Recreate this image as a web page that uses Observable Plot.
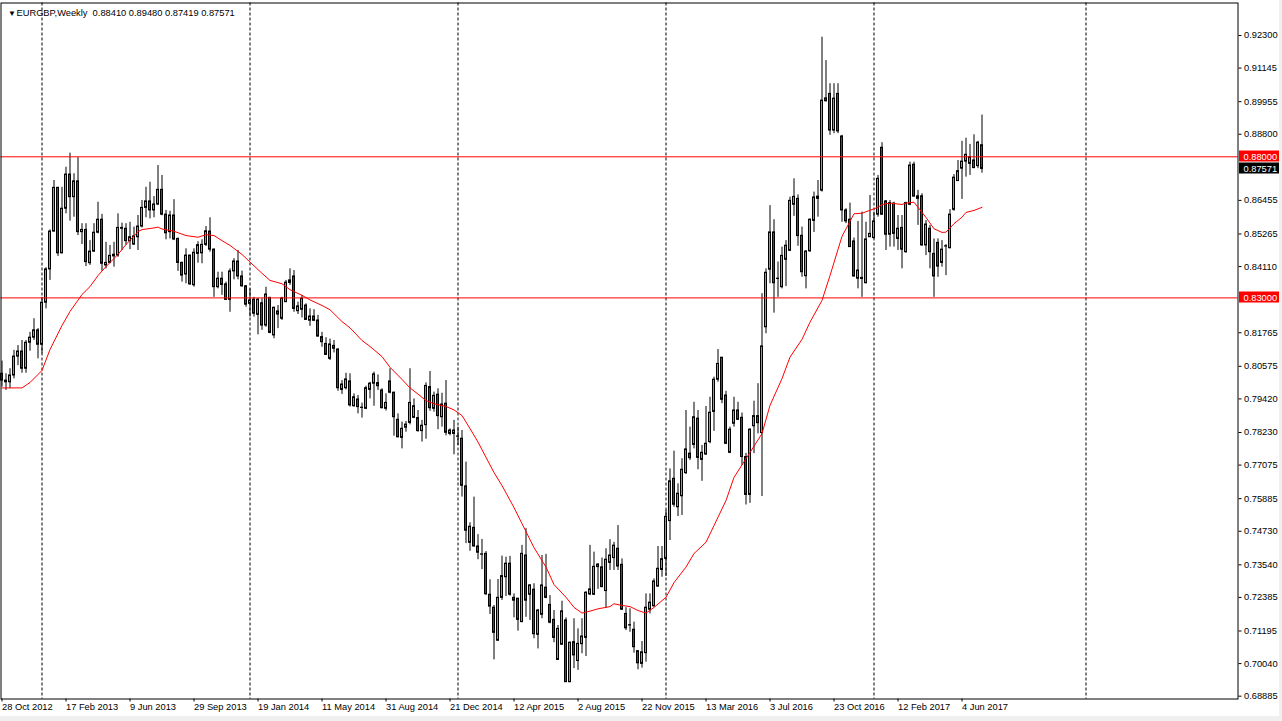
<!DOCTYPE html>
<html><head><meta charset="utf-8">
<script src="https://cdn.jsdelivr.net/npm/d3@7"></script>
<script src="https://cdn.jsdelivr.net/npm/@observablehq/plot@0.6"></script>
<style>
html,body{margin:0;padding:0;background:#fff;overflow:hidden;}
#wrap{position:relative;width:1282px;height:721px;}
#chart svg{display:block;}
.band{position:absolute;background:#f0f0f0;}
</style></head><body>
<div id="wrap"><div id="chart"></div>
<div class="band" style="left:1279px;top:0;width:3px;height:721px;"></div>
<div class="band" style="left:0;top:716px;width:1282px;height:5px;"></div>
</div>
<script>
const symbol = "EURGBP,Weekly";
const open = [
0.8031,0.8001,0.8001,0.8025,0.8092,0.8110,0.8049,0.8141,0.8159,0.8185,
0.8134,0.8283,0.8401,0.8535,0.8690,0.8458,0.8616,0.8737,0.8657,0.8713,
0.8533,0.8541,0.8423,0.8464,0.8531,0.8577,0.8415,0.8424,0.8447,0.8450,
0.8548,0.8545,0.8501,0.8489,0.8515,0.8553,0.8619,0.8642,0.8610,0.8631,
0.8683,0.8595,0.8533,0.8592,0.8509,0.8424,0.8383,0.8450,0.8345,0.8456,
0.8458,0.8488,0.8535,0.8471,0.8338,0.8368,0.8348,0.8293,0.8394,0.8429,
0.8376,0.8341,0.8279,0.8294,0.8240,0.8281,0.8202,0.8300,0.8167,0.8252,
0.8226,0.8285,0.8353,0.8376,0.8253,0.8258,0.8273,0.8219,0.8234,0.8220,
0.8161,0.8137,0.8084,0.8130,0.8117,0.7974,0.7980,0.8004,0.7916,0.7940,
0.7911,0.7907,0.7974,0.7996,0.7998,0.7972,0.7907,0.8004,0.7964,0.7868,
0.7804,0.7840,0.7857,0.7875,0.7874,0.7828,0.7849,0.7984,0.7907,0.7957,
0.7877,0.7925,0.7818,0.7818,0.7809,0.7801,0.7632,0.7432,0.7485,0.7419,
0.7391,0.7393,0.7248,0.7202,0.7085,0.7237,0.7310,0.7358,0.7237,0.7234,
0.7151,0.7387,0.7248,0.7266,0.7106,0.7177,0.7273,0.7212,0.7159,0.7017,
0.7071,0.7157,0.6938,0.7080,0.7013,0.7073,0.7095,0.7249,0.7248,0.7355,
0.7345,0.7261,0.7361,0.7378,0.7411,0.7354,0.7180,0.7140,0.7124,0.7048,
0.7003,0.7041,0.7195,0.7207,0.7277,0.7336,0.7375,0.7509,0.7659,0.7558,
0.7597,0.7679,0.7748,0.7779,0.7872,0.7726,0.7745,0.7789,0.7896,0.8010,
0.8088,0.7954,0.7751,0.7854,0.7901,0.7875,0.7736,0.7602,0.7845,0.7881,
0.7821,0.8196,0.8400,0.8532,0.8368,0.8338,0.8435,0.8467,0.8630,0.8651,
0.8520,0.8377,0.8465,0.8573,0.8651,0.8680,0.9007,0.9023,0.8893,0.9023,
0.8872,0.8610,0.8577,0.8500,0.8368,0.8371,0.8352,0.8515,0.8512,0.8595,
0.8832,0.8642,0.8524,0.8634,0.8509,0.8548,0.8462,0.8630,0.8772,0.8660,
0.8660,0.8486,0.8545,0.8456,0.8495,0.8424,0.8483,0.8476,0.8612,0.8714,
0.8758,0.8783,0.8775,0.8787,0.8767,0.88410];
const high = [
0.8076,0.8031,0.8049,0.8114,0.8131,0.8149,0.8149,0.8178,0.8226,0.8191,
0.8302,0.8407,0.8541,0.8716,0.8692,0.8692,0.8763,0.8813,0.8740,0.8797,
0.8563,0.8563,0.8503,0.8563,0.8639,0.8596,0.8497,0.8486,0.8497,0.8598,
0.8565,0.8563,0.8568,0.8551,0.8592,0.8645,0.8692,0.8710,0.8659,0.8769,
0.8734,0.8610,0.8607,0.8648,0.8512,0.8427,0.8474,0.8451,0.8474,0.8499,
0.8506,0.8553,0.8584,0.8474,0.8391,0.8391,0.8356,0.8403,0.8439,0.8468,
0.8395,0.8344,0.8332,0.8302,0.8297,0.8297,0.8338,0.8302,0.8267,0.8273,
0.8302,0.8362,0.8403,0.8397,0.8285,0.8309,0.8279,0.8261,0.8258,0.8238,
0.8178,0.8159,0.8154,0.8149,0.8120,0.8007,0.8033,0.8031,0.7960,0.7954,
0.7927,0.7987,0.8001,0.8037,0.8027,0.7978,0.7960,0.8049,0.7966,0.7889,
0.7860,0.7862,0.8049,0.7942,0.7901,0.7866,0.7999,0.8039,0.7966,0.7978,
0.7962,0.8007,0.7836,0.7866,0.7842,0.7830,0.7718,0.7503,0.7594,0.7461,
0.7444,0.7401,0.7301,0.7210,0.7302,0.7385,0.7381,0.7384,0.7251,0.7235,
0.7423,0.7482,0.7284,0.7287,0.7196,0.7387,0.7391,0.7245,0.7192,0.7139,
0.7225,0.7166,0.7080,0.7163,0.7127,0.7163,0.7259,0.7423,0.7399,0.7358,
0.7378,0.7411,0.7443,0.7434,0.7493,0.7375,0.7202,0.7198,0.7151,0.7050,
0.7082,0.7251,0.7251,0.7304,0.7419,0.7419,0.7547,0.7694,0.7757,0.7641,
0.7730,0.7901,0.7842,0.7930,0.7901,0.7777,0.7915,0.7948,0.8019,0.8117,
0.8088,0.7969,0.7842,0.7948,0.7930,0.7892,0.7749,0.7836,0.7934,0.7996,
0.8315,0.8403,0.8627,0.8577,0.8427,0.8480,0.8503,0.8657,0.8722,0.8665,
0.8551,0.8468,0.8580,0.8675,0.8716,0.9224,0.9141,0.9059,0.9059,0.9059,
0.8876,0.8616,0.8636,0.8512,0.8571,0.8604,0.8568,0.8663,0.8604,0.8734,
0.8850,0.8645,0.8645,0.8639,0.8592,0.8592,0.8639,0.8781,0.8781,0.8681,
0.8669,0.8574,0.8557,0.8509,0.8509,0.8503,0.8489,0.8613,0.8737,0.8787,
0.8855,0.8866,0.8844,0.8878,0.8855,0.89480];
const low = [
0.7984,0.7972,0.7978,0.8013,0.8060,0.8033,0.8033,0.8111,0.8149,0.8084,
0.8102,0.8261,0.8362,0.8533,0.8447,0.8456,0.8598,0.8572,0.8586,0.8521,
0.8489,0.8411,0.8415,0.8462,0.8527,0.8394,0.8403,0.8421,0.8409,0.8444,
0.8468,0.8486,0.8471,0.8486,0.8468,0.8548,0.8584,0.8580,0.8584,0.8627,
0.8591,0.8506,0.8509,0.8503,0.8394,0.8356,0.8350,0.8344,0.8338,0.8423,
0.8421,0.8482,0.8462,0.8302,0.8332,0.8309,0.8291,0.8249,0.8364,0.8364,
0.8338,0.8267,0.8232,0.8232,0.8169,0.8185,0.8196,0.8173,0.8155,0.8191,
0.8220,0.8283,0.8344,0.8249,0.8241,0.8229,0.8222,0.8199,0.8216,0.8161,
0.8125,0.8096,0.8078,0.8105,0.7969,0.7958,0.7974,0.7913,0.7913,0.7889,
0.7874,0.7904,0.7942,0.7916,0.7972,0.7907,0.7899,0.7960,0.7810,0.7804,
0.7765,0.7824,0.7850,0.7872,0.7824,0.7789,0.7799,0.7898,0.7895,0.7833,
0.7842,0.7811,0.7811,0.7744,0.7777,0.7594,0.7429,0.7402,0.7417,0.7372,
0.7337,0.7245,0.7178,0.7017,0.7083,0.7228,0.7242,0.7243,0.7166,0.7119,
0.7149,0.7168,0.7157,0.7092,0.7056,0.7163,0.7234,0.7145,0.7078,0.7015,
0.7068,0.6938,0.6938,0.6986,0.6980,0.7039,0.7029,0.7245,0.7245,0.7267,
0.7273,0.7200,0.7334,0.7334,0.7334,0.7192,0.7121,0.7115,0.7041,0.6982,
0.6988,0.7009,0.7180,0.7204,0.7275,0.7310,0.7313,0.7440,0.7558,0.7525,
0.7529,0.7674,0.7724,0.7765,0.7691,0.7650,0.7742,0.7783,0.7827,0.8001,
0.7925,0.7780,0.7748,0.7842,0.7866,0.7706,0.7566,0.7572,0.7748,0.7818,
0.7596,0.8173,0.8350,0.8246,0.8302,0.8332,0.8340,0.8464,0.8589,0.8483,
0.8373,0.8332,0.8462,0.8532,0.8586,0.8675,0.8994,0.8876,0.8882,0.8882,
0.8568,0.8563,0.8480,0.8373,0.8332,0.8302,0.8350,0.8515,0.8509,0.8586,
0.8592,0.8468,0.8480,0.8480,0.8468,0.8403,0.8458,0.8627,0.8657,0.8557,
0.8483,0.8450,0.8403,0.8302,0.8373,0.8409,0.8379,0.8474,0.8607,0.8713,
0.8649,0.8728,0.8734,0.8758,0.8758,0.87419];
const close = [
0.8007,0.8007,0.8025,0.8092,0.8110,0.8049,0.8141,0.8159,0.8185,0.8134,
0.8283,0.8401,0.8535,0.8690,0.8458,0.8616,0.8737,0.8657,0.8713,0.8533,
0.8541,0.8427,0.8464,0.8531,0.8577,0.8421,0.8424,0.8449,0.8453,0.8548,
0.8545,0.8501,0.8515,0.8518,0.8553,0.8619,0.8642,0.8610,0.8631,0.8683,
0.8595,0.8529,0.8592,0.8507,0.8424,0.8379,0.8450,0.8348,0.8460,0.8487,
0.8488,0.8536,0.8471,0.8338,0.8368,0.8346,0.8293,0.8394,0.8429,0.8376,
0.8341,0.8276,0.8291,0.8244,0.8294,0.8202,0.8312,0.8176,0.8265,0.8241,
0.8298,0.8354,0.8362,0.8261,0.8270,0.8297,0.8222,0.8234,0.8219,0.8163,
0.8143,0.8098,0.8135,0.8120,0.7980,0.7993,0.8011,0.7919,0.7948,0.7913,
0.7910,0.7980,0.7996,0.8029,0.7987,0.7909,0.7928,0.7964,0.7877,0.7806,
0.7836,0.7851,0.7928,0.7916,0.7828,0.7847,0.7988,0.7909,0.7953,0.7881,
0.7922,0.7822,0.7830,0.7830,0.7808,0.7634,0.7475,0.7489,0.7419,0.7397,
0.7390,0.7250,0.7206,0.7113,0.7237,0.7314,0.7358,0.7248,0.7227,0.7159,
0.7393,0.7227,0.7281,0.7108,0.7192,0.7281,0.7237,0.7149,0.7095,0.7127,
0.7189,0.6938,0.7078,0.7033,0.7074,0.7100,0.7255,0.7267,0.7347,0.7346,
0.7275,0.7372,0.7387,0.7422,0.7348,0.7195,0.7129,0.7139,0.7062,0.7005,
0.7044,0.7202,0.7220,0.7295,0.7340,0.7374,0.7524,0.7650,0.7567,0.7606,
0.7691,0.7763,0.7732,0.7877,0.7733,0.7751,0.7783,0.7893,0.8010,0.8066,
0.7939,0.7783,0.7833,0.7901,0.7868,0.7736,0.7602,0.7833,0.7881,0.7856,
0.8128,0.8389,0.8532,0.8352,0.8367,0.8449,0.8485,0.8644,0.8658,0.8519,
0.8391,0.8464,0.8577,0.8656,0.8659,0.8999,0.8997,0.8893,0.9006,0.8890,
0.8610,0.8571,0.8480,0.8376,0.8397,0.8367,0.8507,0.8527,0.8571,0.8722,
0.8595,0.8524,0.8636,0.8527,0.8545,0.8471,0.8636,0.8769,0.8659,0.8651,
0.8486,0.8560,0.8462,0.8376,0.8411,0.8471,0.8482,0.8595,0.8726,0.8749,
0.8783,0.8807,0.8799,0.8760,0.8850,0.87571];

// moving average (bar index -> value)
const maIndex = [0,5,7,10,12,15,17,20,22,24,26,29,31,34,35,38,39,40,43,46,
49,51,53,55,57,60,62,65,67,70,72,75,77,80,82,85,87,90,92,95,
97,100,102,104,106,108,111,113,115,117,119,121,123,125,128,130,133,136,138,141,
143,145,147,149,152,153,155,157,159,161,163,166,168,171,173,176,178,181,183,186,
190,192,195,197,200,202,205,207,210,213,215,219,220,222,225,226,228,229,231,233,
235,236,238,240,241,243,245];
const maValue = [0.7981,0.7981,0.8000,0.8043,0.8117,0.8202,0.8252,0.8312,0.8340,0.8379,
0.8411,0.8454,0.8489,0.8535,0.8542,0.8548,0.8551,0.8544,0.8536,0.8521,
0.8515,0.8524,0.8521,0.8503,0.8486,0.8454,0.8427,0.8387,0.8362,0.8350,
0.8329,0.8309,0.8293,0.8273,0.8258,0.8216,0.8194,0.8149,0.8128,0.8092,
0.8054,0.8011,0.7981,0.7959,0.7936,0.7925,0.7915,0.7903,0.7883,0.7837,
0.7789,0.7735,0.7681,0.7635,0.7557,0.7500,0.7415,0.7346,0.7284,0.7239,
0.7203,0.7183,0.7190,0.7198,0.7206,0.7216,0.7210,0.7206,0.7192,0.7183,
0.7203,0.7239,0.7291,0.7346,0.7394,0.7434,0.7493,0.7582,0.7664,0.7730,
0.7819,0.7919,0.8014,0.8090,0.8153,0.8214,0.8291,0.8379,0.8518,0.8598,
0.8600,0.8621,0.8631,0.8636,0.8631,0.8636,0.8639,0.8621,0.8585,0.8545,
0.8532,0.8533,0.8563,0.8586,0.8603,0.8610,0.8621];

const xTickIndex = [0,16,32,48,64,80,96,112,128,144,160,176,192,208,224,240];
const xTickLabels = ["28 Oct 2012","17 Feb 2013","9 Jun 2013","29 Sep 2013","19 Jan 2014","11 May 2014",
"31 Aug 2014","21 Dec 2014","12 Apr 2015","2 Aug 2015","22 Nov 2015","13 Mar 2016","3 Jul 2016",
"23 Oct 2016","12 Feb 2017","4 Jun 2017"];
const yTicks = [0.92300,0.91145,0.89955,0.88800,0.86455,0.85265,0.84110,0.81765,0.80575,0.79420,
0.78230,0.77075,0.75885,0.74730,0.73540,0.72385,0.71195,0.70040,0.68885];
const yearSeparators = [10,62,114,166,218,271];
const levels = [0.88000, 0.83000];

const bars = open.map((o, i) => ({i, open: o, high: high[i], low: low[i], close: close[i]}));
const ma = maIndex.map((i, k) => ({i, value: maValue[k]}));
const labelOf = new Map(xTickIndex.map((i, k) => [i, xTickLabels[k]]));
const last = bars[bars.length - 1];
const titleText = symbol + "\u00a0\u00a0" + [last.open, last.high, last.low, last.close].map(v => v.toFixed(5)).join(" ");

const FONT = "'Liberation Sans', Arial, sans-serif";
const tags = [
  {value: levels[0], bg: "#ff0000"},
  {value: last.close, bg: "#000000"},
  {value: levels[1], bg: "#ff0000"}
];

function priceTags(index, scales, values, dim) {
  const g = d3.create("svg:g");
  const x0 = dim.width - dim.marginRight;
  for (const t of tags) {
    const y = scales.y(t.value);
    g.append("rect").attr("x", x0 + 1.5).attr("y", Math.round(y) - 5.5)
      .attr("width", 40.5).attr("height", 11).attr("fill", t.bg);
    g.append("text").attr("x", x0 + 6).attr("y", y).attr("dy", "0.35em")
      .attr("text-anchor", "start")
      .attr("fill", "#ffffff").attr("font-size", 9.3).attr("font-family", FONT)
      .text(t.value.toFixed(5));
  }
  return g.node();
}

const chart = Plot.plot({
  width: 1282,
  height: 721,
  marginLeft: 0.5,
  marginRight: 44.5,
  marginTop: 2.5,
  marginBottom: 22.5,
  style: {fontFamily: FONT, fontSize: "9.3px", background: "#ffffff", color: "#000"},
  x: {type: "linear", domain: [-0.25, 309], axis: null},
  y: {type: "linear", domain: [0.68785, 0.93451], axis: null},
  color: {type: "identity"},
  marks: [
    Plot.ruleX(yearSeparators, {x: d => d, stroke: "#000", strokeDasharray: "3,2"}),
    Plot.ruleX(bars, {x: "i", y1: "low", y2: "high", stroke: "#000", strokeWidth: 1}),
    Plot.rect(bars, {
      x1: d => d.i - 0.25, x2: d => d.i + 0.25,
      y1: "open", y2: "close",
      fill: d => d.close >= d.open ? "#00ff00" : "#ff0000",
      stroke: "#000", strokeWidth: 1
    }),
    Plot.line(ma, {x: "i", y: "value", stroke: "#ff0000", strokeWidth: 1}),
    Plot.ruleY(levels, {y: d => d, stroke: "#ff0000", strokeWidth: 1}),
    Plot.frame({stroke: "#000"}),
    Plot.axisY({anchor: "right", ticks: yTicks, tickFormat: d => d.toFixed(5), tickSize: 3, tickPadding: 3, label: null, stroke: "#000", fill: "#000"}),
    Plot.axisX({anchor: "bottom", ticks: xTickIndex, tickFormat: i => labelOf.get(i), tickSize: 3, tickPadding: 1, textAnchor: "start", label: null, stroke: "#000", fill: "#000"}),
    Plot.text(["\u25bc"], {frameAnchor: "top-left", dx: 7, dy: 7, fontSize: 8, lineAnchor: "top", fill: "#000"}),
    Plot.text([titleText], {frameAnchor: "top-left", dx: 15.5, dy: 6, textAnchor: "start", lineAnchor: "top", fill: "#000"}),
    priceTags
  ]
});
document.getElementById("chart").appendChild(chart);
</script>
</body></html>
